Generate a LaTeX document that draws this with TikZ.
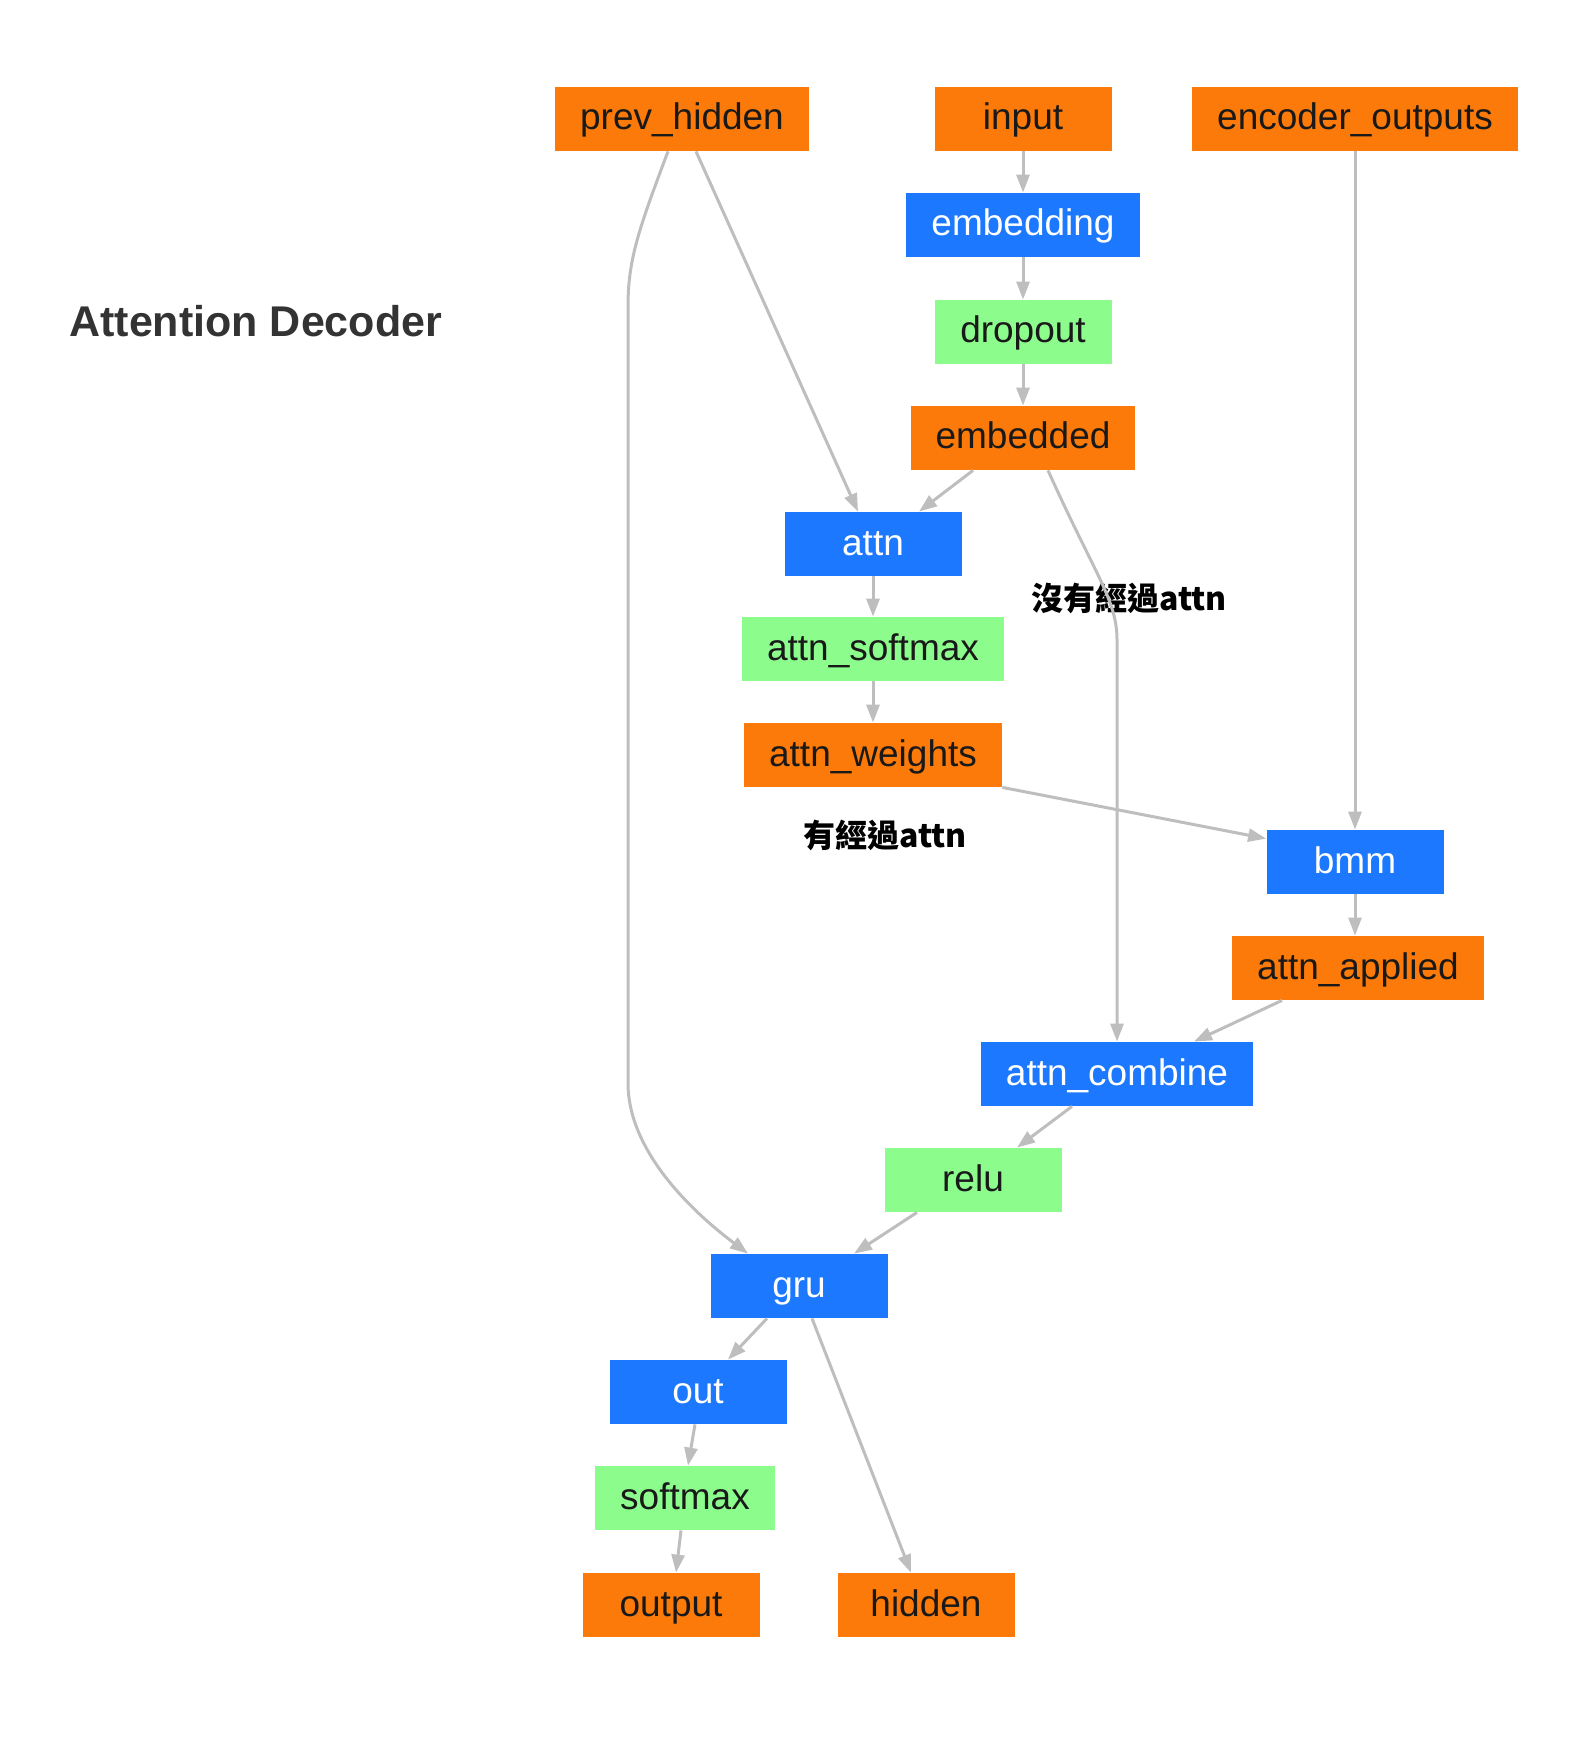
\documentclass[tikz,border=0pt]{standalone}
\usepackage{fontspec}
\setmainfont{Liberation Sans}
\newfontfamily\cjk{Noto Sans CJK TC}
\usetikzlibrary{arrows.meta}

\definecolor{tensorcol}{RGB}{251,122,10}
\definecolor{layercol}{RGB}{28,121,255}
\definecolor{actcol}{RGB}{140,252,140}
\definecolor{edgecol}{RGB}{190,190,190}
\definecolor{titlecol}{RGB}{51,51,51}

\tikzset{
    box/.style={minimum height=32pt, minimum width=88.5pt, inner xsep=12.5pt,
        text height=14pt, text depth=3pt,
        font=\fontsize{18.5}{22}\selectfont},
    tensor/.style={box, fill=tensorcol, text=black!90},
    layer/.style={box, fill=layercol, text=white},
    act/.style={box, fill=actcol, text=black!90},
    flow/.style={draw=edgecol, line width=1.5pt, -{Triangle[length=9pt,width=6.5pt]}},
    note/.style={inner sep=0pt, font=\cjk\bfseries\fontsize{16}{20}\selectfont}
}

\begin{document}
\begin{tikzpicture}[x=0.5pt, y=-0.5pt]
    \useasboundingbox (0,0) rectangle (1594,1754);

    % Title
    \node[anchor=base west, inner sep=0pt, text=titlecol,
        font=\bfseries\fontsize{21.5}{26}\selectfont] (title) at (69,337) {Attention Decoder};

    % Inputs
    \node[tensor] (prevhidden) at (682,119) {prev\_hidden};
    \node[tensor] (input) at (1023,119) {input};
    \node[tensor] (encout) at (1355,119) {encoder\_outputs};

    % Embedding branch
    \node[layer] (embedding) at (1023,225) {embedding};
    \node[act] (dropout) at (1023,332) {dropout};
    \node[tensor] (embedded) at (1023,438) {embedded};

    % Attention branch
    \node[layer] (attn) at (873,544) {attn};
    \node[act] (attnsoftmax) at (873,649) {attn\_softmax};
    \node[tensor] (attnweights) at (873,755) {attn\_weights};
    \node[layer] (bmm) at (1355,862) {bmm};
    \node[tensor] (attnapplied) at (1358,968) {attn\_applied};
    \node[layer] (attncombine) at (1117,1074) {attn\_combine};
    \node[act] (relu) at (973,1180) {relu};

    % Recurrent part and outputs
    \node[layer] (gru) at (799,1286) {gru};
    \node[layer] (out) at (698,1392) {out};
    \node[act] (softmax) at (685,1498) {softmax};
    \node[tensor] (output) at (671,1605) {output};
    \node[tensor] (hidden) at (926,1605) {hidden};

    % Notes
    \node[note, anchor=west] (noattn) at (1031,598) {沒有經過attn};
    \node[note, anchor=west] (withattn) at (803,835) {有經過attn};

    % Straight connectors
    \draw[flow] (input) -- (embedding);
    \draw[flow] (embedding) -- (dropout);
    \draw[flow] (dropout) -- (embedded);
    \draw[flow] ([xshift=7pt]prevhidden.south) -- ([xshift=-7.5pt]attn.north);
    \draw[flow] ([xshift=-25pt]embedded.south) -- ([xshift=23pt]attn.north);
    \draw[flow] (attn) -- (attnsoftmax);
    \draw[flow] (attnsoftmax) -- (attnweights);
    \draw[flow] (attnweights.south east) -- ([yshift=-4.5pt]bmm.north west);
    \draw[flow] (encout) -- (bmm);
    \draw[flow] (bmm.south) -- (bmm.south |- attnapplied.north);
    \draw[flow] ([xshift=-38pt]attnapplied.south) -- ([xshift=38.5pt]attncombine.north);
    \draw[flow] ([xshift=-22.5pt]attncombine.south) -- ([xshift=22pt]relu.north);
    \draw[flow] ([xshift=-28pt]relu.south) -- ([xshift=27.5pt]gru.north);
    \draw[flow] ([xshift=-16pt]gru.south) -- ([xshift=15pt]out.north);
    \draw[flow] ([xshift=6.5pt]gru.south) -- ([xshift=-7.5pt]hidden.north);
    \draw[flow] ([xshift=-1.5pt]out.south) -- ([xshift=1.5pt]softmax.north);
    \draw[flow] ([xshift=-2pt]softmax.south) -- ([xshift=2.5pt]output.north);

    % Curved connectors
    \draw[flow] ([xshift=12.5pt]embedded.south) .. controls (1095,575) and (1117,600) .. (1117,640)
        -- (attncombine.north);
    \draw[flow] ([xshift=-7pt]prevhidden.south) .. controls (638,231) and (628,260) .. (628,307)
        -- (628,1083) .. controls (628,1150) and (690,1210) .. ([xshift=-25.5pt]gru.north);
\end{tikzpicture}
\end{document}
